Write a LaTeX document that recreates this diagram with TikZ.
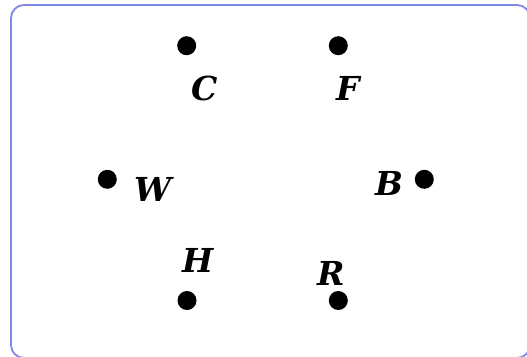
\documentclass[tikz,border=0pt]{standalone}
\usepackage{fontspec}
\setmainfont{DejaVu Serif}
\definecolor{frame}{HTML}{8088E6}
\begin{document}
\begin{tikzpicture}[x=1pt,y=-1pt,
  dot/.style={circle,fill=black,inner sep=0pt,minimum size=19pt},
  lab/.style={font=\fontsize{33}{36}\selectfont\bfseries\itshape,inner sep=0pt,anchor=base}]
\useasboundingbox (0,0) rectangle (527,356);
\draw[frame,line width=1.8pt,rounded corners=13pt] (11,5) rectangle (530,358);
\node[dot] (c) at (186.7,45.7) {};
\node[dot] (f) at (338.3,45.7) {};
\node[dot] (w) at (107.3,179.3) {};
\node[dot] (b) at (424.3,179.3) {};
\node[dot] (h) at (187,300.5) {};
\node[dot] (r) at (338.3,300.5) {};
\node[lab] (lc) at (204.5,100) {C};
\node[lab] (lf) at (348,100) {F};
\node[lab] (lw) at (153.5,201) {W};
\node[lab] (lb) at (389.5,195) {B};
\node[lab] (lh) at (198,272) {H};
\node[lab] (lr) at (331.5,285) {R};
\end{tikzpicture}
\end{document}
